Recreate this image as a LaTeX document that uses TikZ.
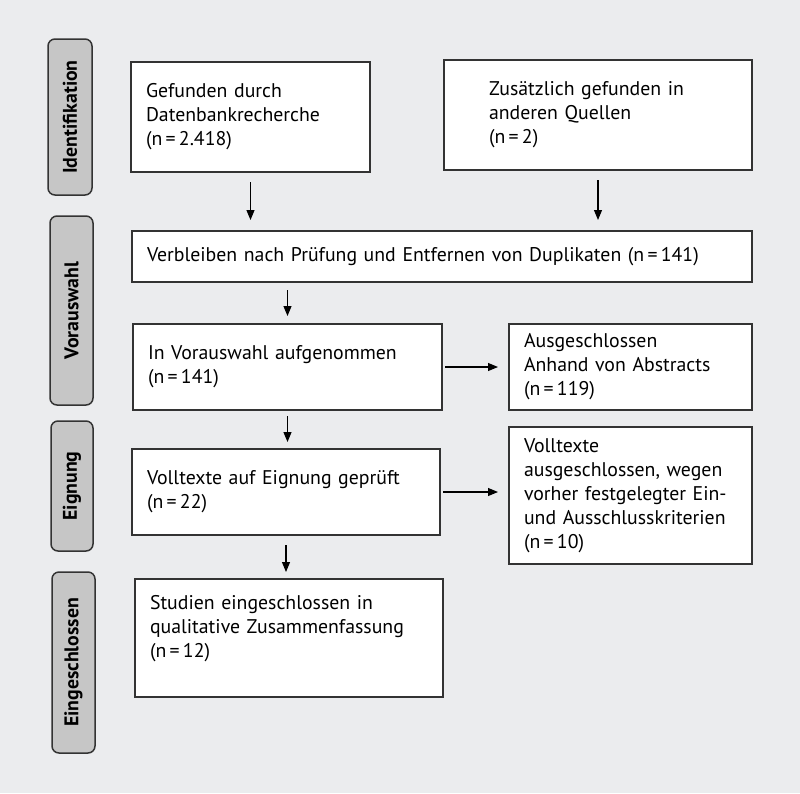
\documentclass[tikz,border=0pt]{standalone}
\usepackage{fontspec}
\setmainfont{PT Sans}
\usetikzlibrary{arrows.meta}
\definecolor{bg}{HTML}{EBECEE}
\definecolor{rim}{HTML}{333333}
\definecolor{tab}{HTML}{C6C6C6}

\begin{document}
\begin{tikzpicture}[x=1pt,y=-1pt,
				box/.style={draw=rim,line width=2pt,fill=white,anchor=north west,align=left,
					inner xsep=15pt,inner ysep=0pt,font=\fontsize{19.8}{24}\selectfont},
				phase/.style={draw=rim,line width=1.5pt,fill=tab,rounded corners=7pt,rotate=90,
					inner sep=0pt,font=\fontsize{19.8}{24}\selectfont\bfseries},
				arr/.style={-{Triangle[length=10pt,width=8pt]},line width=1.1pt,shorten <=7pt,shorten >=7pt}]
				\fill[bg] (0,0) rectangle (800,793);
				% phases
				\node (ident)  [phase,minimum width=156pt,minimum height=44pt] at (70,117)   {Identifikation};
				\node (presel) [phase,minimum width=189pt,minimum height=43pt] at (71.5,310.5) {Vorauswahl};
				\node (elig)   [phase,minimum width=130pt,minimum height=42pt] at (72,486)   {Eignung};
				\node (incl)   [phase,minimum width=181pt,minimum height=43pt] at (73.5,662.5) {Eingeschlossen};
				% boxes
				\node (found)     [box,minimum width=239pt,minimum height=110pt,text width=209pt] at (130,61)
					{Gefunden durch\\Datenbankrecherche\\(n\,=\,2.418)};
				\node (extra)     [box,minimum width=308pt,minimum height=110pt,inner xsep=45pt,text width=218pt] at (443,59)
					{Zusätzlich gefunden in\\anderen Quellen\\(n\,=\,2)};
				\node (dedup)     [box,minimum width=620pt,minimum height=51pt,text width=590pt] at (131,230)
					{Verbleiben nach Prüfung und Entfernen von Duplikaten (n\,=\,141)};
				\node (screen)    [box,minimum width=309pt,minimum height=86pt,text width=279pt] at (132,323)
					{In Vorauswahl aufgenommen\\(n\,=\,141)};
				\node (abstracts) [box,minimum width=243pt,minimum height=86pt,text width=213pt] at (508,323)
					{Ausgeschlossen\\Anhand von Abstracts\\(n\,=\,119)};
				\node (fulltext)  [box,minimum width=308pt,minimum height=86pt,text width=278pt] at (131,448)
					{Volltexte auf Eignung geprüft\\(n\,=\,22)};
				\node (excluded)  [box,minimum width=243pt,minimum height=137pt,text width=213pt] at (508,426)
					{Volltexte\\ausgeschlossen, wegen\\vorher festgelegter Ein-\\und Ausschlusskriterien\\(n\,=\,10)};
				\node (studies)   [box,minimum width=308pt,minimum height=118pt,text width=278pt] at (134,578)
					{Studien eingeschlossen in\\qualitative Zusammenfassung\\(n\,=\,12)\\\mbox{}};
				
				\draw[arr,shorten <=9pt,shorten >=10pt] (found.south) -- (found.south |- dedup.north);
				\draw[arr,shorten <=9pt,shorten >=10pt] (extra.south) -- (extra.south |- dedup.north);
				\draw[arr] (screen.north |- dedup.south) -- (screen.north);
				\draw[arr,shorten <=5pt,shorten >=6pt] (screen.south) -- (screen.south |- fulltext.north);
				\draw[arr,shorten <=9pt,shorten >=6pt] (fulltext.south) -- (fulltext.south |- studies.north);
				\draw[arr,shorten <=2pt,shorten >=10pt] (screen.east) -- (screen.east -| abstracts.west);
				\draw[arr,shorten <=2pt,shorten >=10pt] (fulltext.east) -- (fulltext.east -| excluded.west);
			\end{tikzpicture}
\end{document}
